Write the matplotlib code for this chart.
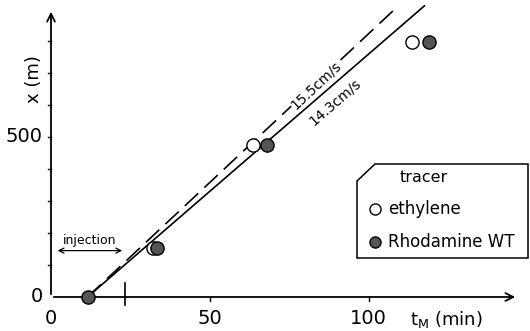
import numpy as np
import matplotlib
matplotlib.use("Agg")
import matplotlib.pyplot as plt
from matplotlib.patches import Polygon

plt.rcParams['font.family'] = ['DejaVu Sans']

# data
eth_t = [32.0, 63.5, 113.5]
eth_x = [153, 475, 797]
rho_t = [11.5, 33.5, 68.0, 119.0]
rho_x = [0, 153, 475, 797]
t0 = 11.5
v_dash = 15.5  # cm/s
v_solid = 14.3  # cm/s
x_end = 910
xticks = [0, 50, 100]
yticks_major = [0, 500]
yticks_minor = [100, 200, 300, 400, 600, 700, 800]
inj_end = 23.3
inj_y = 145

W, H = 530, 331
fig = plt.figure(figsize=(W / 100, H / 100), dpi=100)
ax = fig.add_axes([51 / W, 34 / H, 467 / W, 288 / H])
ax.set_xlim(0, 147)
ax.set_ylim(0, 900)
for s in ax.spines.values():
    s.set_visible(False)
ax.set_xticks([])
ax.set_yticks([])
ax.patch.set_alpha(0)

# axes with arrows
ax.annotate('', xy=(1.0, 0), xytext=(0, 0), xycoords='axes fraction',
            arrowprops=dict(arrowstyle='->', lw=1.3, color='k', mutation_scale=14), annotation_clip=False)
ax.annotate('', xy=(0, 1.0), xytext=(0, 0), xycoords='axes fraction',
            arrowprops=dict(arrowstyle='->', lw=1.3, color='k', mutation_scale=14), annotation_clip=False)

# ticks
for t in xticks[1:]:
    ax.plot([t, t], [0, -12], color='k', lw=1, clip_on=False)
ax.plot([inj_end, inj_end], [-25, 45], color='k', lw=1.2, clip_on=False)
for y in yticks_major + yticks_minor:
    if y > 0:
        ax.plot([0, -0.8], [y, y], color='k', lw=1, clip_on=False)

for t in xticks:
    ax.text(t, -38, str(t), ha='center', va='top', fontsize=14)
for y in yticks_major:
    ax.text(-2.6, y, str(y), ha='right', va='center', fontsize=14)
ax.text(-5.4, 680, 'x (m)', rotation=90, ha='center', va='center', fontsize=13)
ax.text(113, -38, r't$_{\mathrm{M}}$ (min)', ha='left', va='top', fontsize=13)

# lines
xs_d = np.array([t0, t0 + x_end / (v_dash * 0.6)])
xs_s = np.array([t0, t0 + x_end / (v_solid * 0.6)])
ax.plot(xs_d, (xs_d - t0) * v_dash * 0.6, ls=(0, (11, 5)), color='k', lw=1.2, clip_on=False)
ax.plot(xs_s, (xs_s - t0) * v_solid * 0.6, ls='-', color='k', lw=1.2, clip_on=False)

# points
ax.plot(eth_t, eth_x, 'o', ms=9.5, mfc='white', mec='k', mew=1, clip_on=False, zorder=5)
ax.plot(rho_t, rho_x, 'o', ms=9.5, mfc='#555555', mec='k', mew=1, clip_on=False, zorder=6)

# line labels
def ang(v):
    p1 = ax.transData.transform((20, (20 - t0) * v * 0.6))
    p2 = ax.transData.transform((100, (100 - t0) * v * 0.6))
    return np.degrees(np.arctan2(p2[1] - p1[1], p2[0] - p1[0]))

ax.text(83.5, 9.3 * (83.5 - t0) - 8, '15.5cm/s', rotation=ang(v_dash), ha='center', va='center',
        fontsize=10, rotation_mode='anchor',
        bbox=dict(facecolor='white', edgecolor='none', pad=0.5))
ax.text(89.5, 8.58 * (89.5 - t0) - 60, '14.3cm/s', rotation=ang(v_solid), ha='center', va='center',
        fontsize=10, rotation_mode='anchor')

# injection
ax.annotate('', xy=(1.2, inj_y), xytext=(inj_end, inj_y),
            arrowprops=dict(arrowstyle='<->', lw=0.9, color='k', mutation_scale=9))
ax.text(12.2, inj_y + 12, 'injection', ha='center', va='bottom', fontsize=9)

# legend box
def px(x, y):
    return (x / W, 1 - y / H)

poly = Polygon([px(357, 181), px(375, 164), px(528, 164), px(528, 258), px(357, 258)],
               closed=True, transform=fig.transFigure, facecolor='white', edgecolor='k', lw=1.1)
fig.patches.append(poly)
fig.text(424 / W, 1 - 178 / H, 'tracer', ha='center', va='center', fontsize=11.5)
fig.lines.append(plt.Line2D([375 / W], [1 - 209 / H], marker='o', ms=8, mfc='white', mec='k',
                            mew=1, transform=fig.transFigure))
fig.lines.append(plt.Line2D([375 / W], [1 - 242 / H], marker='o', ms=8, mfc='#555555', mec='k',
                            mew=1, transform=fig.transFigure))
fig.text(388 / W, 1 - 209 / H, 'ethylene', ha='left', va='center', fontsize=12)
fig.text(388 / W, 1 - 242 / H, 'Rhodamine WT', ha='left', va='center', fontsize=12)

fig.savefig('out.png', dpi=100)
